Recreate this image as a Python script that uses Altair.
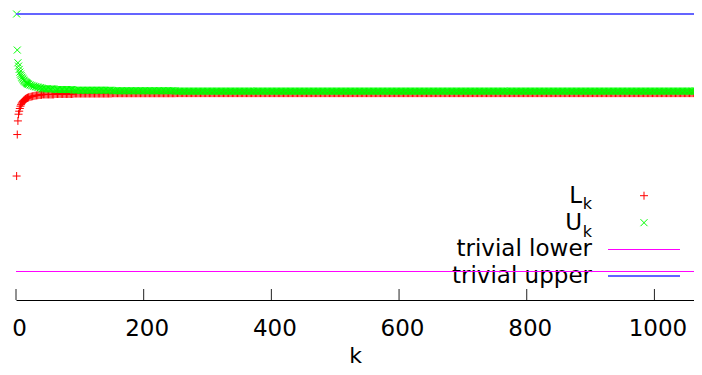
import altair as alt
import pandas as pd

# ---- data (trivial lower = 0, trivial upper = 1) ----
k_head = list(range(1, 21)) + list(range(22, 41, 2))
L_head = [0.3708, 0.5319, 0.5848, 0.6109, 0.6226, 0.6331, 0.6420, 0.6479, 0.6537, 0.6576,
          0.6607, 0.6634, 0.6658, 0.6681, 0.6700, 0.6716, 0.6732, 0.6743, 0.6755, 0.6767,
          0.6782, 0.6794, 0.6805, 0.6817, 0.6829, 0.6837, 0.6844, 0.6852, 0.6856, 0.6860]
U_head = [1.0000, 0.8600, 0.8105, 0.7977, 0.7848, 0.7743, 0.7665, 0.7607, 0.7549, 0.7510,
          0.7471, 0.7432, 0.7401, 0.7374, 0.7354, 0.7335, 0.7315, 0.7296, 0.7280, 0.7265,
          0.7245, 0.7230, 0.7210, 0.7195, 0.7179, 0.7167, 0.7160, 0.7148, 0.7136, 0.7128]
# flat tail: value read for each k-segment
tail_start = [41, 61, 91, 151, 251]
tail_end = [60, 90, 150, 250, 1075]
L_tail = [0.6875, 0.6895, 0.6911, 0.6922, 0.6926]
U_tail = [0.7093, 0.7066, 0.7039, 0.7019, 0.7004]
tail_step = 2
trivial_lower = 0.0
trivial_upper = 1.0
x_ticks = [0, 200, 400, 600, 800, 1000]
legend_labels = ["L", "U", "trivial lower", "trivial upper"]

def series(head, tail):
    rows = [{"k": k, "v": v} for k, v in zip(k_head, head)]
    for s, e, v in zip(tail_start, tail_end, tail):
        rows += [{"k": k, "v": v} for k in range(s, e + 1, tail_step)]
    return pd.DataFrame(rows)

dfL = series(L_head, L_tail)
dfU = series(U_head, U_tail)

FONT = "DejaVu Sans"
RED, GREEN, MAG, BLUE = "#ff0000", "#00ff00", "#ff00ff", "#6464ff"
PLUS = "M-1,0L1,0M0,-1L0,1"
CROSS = "M-1,-1L1,1M1,-1L-1,1"

xscale = alt.Scale(domain=[0, 1062], nice=False, zero=False)
yscale = alt.Scale(domain=[-0.11068, 1.0], nice=False, zero=False)
xaxis = alt.Axis(values=x_ticks, format="d", grid=False, ticks=False, tickSize=0,
                 domainColor="#000000", domainWidth=1, labelFontSize=23, labelFont=FONT,
                 labelColor="#000000", labelPadding=17, labelFlush=False, labelOffset=3,
                 title="k", titleFontSize=22, titleFont=FONT, titleFontWeight="normal",
                 titleColor="#000000", titleY=62, titleBaseline="alphabetic")
X = alt.X("k:Q", scale=xscale, axis=xaxis)
Y = alt.Y("v:Q", scale=yscale, axis=None)

one = pd.DataFrame({"a": [0]})

def txt(t, x, y, size, align="right"):
    return alt.Chart(one).mark_text(text=t, font=FONT, fontSize=size, align=align,
                                    baseline="alphabetic", color="#000000").encode(
        x=alt.value(x), y=alt.value(y))

legend = [
    txt(legend_labels[0], 566, 188.7, 23), txt("k", 576, 195.3, 16),
    txt(legend_labels[1], 566, 216.0, 23), txt("k", 576, 222.6, 16),
    txt(legend_labels[2], 576, 242.3, 23),
    txt(legend_labels[3], 576, 269.3, 23),
    alt.Chart(one).mark_point(shape=PLUS, size=64, filled=False, color=RED, strokeWidth=1,
                              opacity=1).encode(x=alt.value(628), y=alt.value(181.7)),
    alt.Chart(one).mark_point(shape=CROSS, size=49, filled=False, color=GREEN, strokeWidth=1,
                              opacity=1).encode(x=alt.value(628), y=alt.value(208.7)),
    alt.Chart(one).mark_rule(color=MAG, strokeWidth=1).encode(
        x=alt.value(592), x2=alt.value(664), y=alt.value(235.5)),
    alt.Chart(one).mark_rule(color=BLUE, strokeWidth=2).encode(
        x=alt.value(592), x2=alt.value(664), y=alt.value(262)),
]

ptsL = alt.Chart(dfL).mark_point(shape=PLUS, size=64, filled=False, color=RED,
                                  strokeWidth=1, opacity=1).encode(x=X, y=Y)
ptsU = alt.Chart(dfU).mark_point(shape=CROSS, size=49, filled=False, color=GREEN,
                                  strokeWidth=1, opacity=1).encode(x=X, y=Y)
lower = alt.Chart(pd.DataFrame({"v": [trivial_lower]})).mark_rule(
    color=MAG, strokeWidth=1).encode(y=Y)
upper = alt.Chart(pd.DataFrame({"v": [trivial_upper]})).mark_rule(
    color=BLUE, strokeWidth=2).encode(y=Y)
ticks = alt.Chart(pd.DataFrame({"k": x_ticks})).mark_rule(
    color="#222222", strokeWidth=1).encode(x=X, y=alt.value(286), y2=alt.value(275))

chart = alt.layer(*legend, ptsL, ptsU, lower, upper, ticks).properties(
    width=678, height=286,
    autosize=alt.AutoSizeParams(type="none"),
    padding={"left": 8, "top": 6, "right": 0, "bottom": 65},
    background="white",
).configure(font=FONT).configure_view(stroke=None)

chart.save("out.html", embed_options={"renderer": "svg", "actions": False})
